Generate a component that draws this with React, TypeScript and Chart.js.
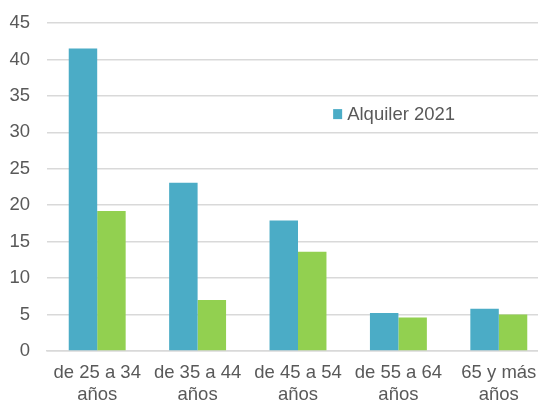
import React, { useEffect, useRef } from "react";
import { Chart, registerables } from "chart.js";

Chart.register(...registerables);

const categories: string[][] = [
  ["de 25 a 34", "años"],
  ["de 35 a 44", "años"],
  ["de 45 a 54", "años"],
  ["de 55 a 64", "años"],
  ["65 y más", "años"],
];
const alquiler2021: number[] = [41.5, 23.1, 17.9, 5.2, 5.8];
const serie2: number[] = [19.2, 7.0, 13.6, 4.6, 5.0];
const yTicks = { min: 0, max: 45, step: 5 };

const FONT = "'Liberation Sans', Arial, sans-serif";
const TEXT = "#595959";
const GRID = "#d9d9d9";

const legendPlugin = {
  id: "insideLegend",
  afterDraw(chart: any) {
    const ctx = chart.ctx;
    const ds = chart.data.datasets[0];
    const x = chart.scales.x.getPixelForValue(2.35);
    const y = chart.scales.y.getPixelForValue(32.5);
    ctx.save();
    ctx.fillStyle = ds.backgroundColor;
    ctx.fillRect(x, y - 5, 9, 10);
    ctx.fillStyle = TEXT;
    ctx.font = `18.5px ${FONT}`;
    ctx.textBaseline = "middle";
    ctx.textAlign = "left";
    ctx.fillText(ds.label, x + 14, y + 1);
    ctx.restore();
  },
};

export default function App() {
  const ref = useRef<HTMLCanvasElement>(null);
  useEffect(() => {
    if (!ref.current) return;
    const chart = new Chart(ref.current, {
      type: "bar",
      data: {
        labels: categories,
        datasets: [
          {
            label: "Alquiler 2021",
            data: alquiler2021,
            backgroundColor: "#4BACC6",
            barPercentage: 1,
            categoryPercentage: 0.567,
          },
          {
            label: "Serie 2",
            data: serie2,
            backgroundColor: "#92D050",
            barPercentage: 1,
            categoryPercentage: 0.567,
          },
        ],
      },
      options: {
        responsive: false,
        animation: false,
        layout: { padding: { top: 23, right: 0, left: 0, bottom: 0 } },
        plugins: {
          legend: { display: false },
          tooltip: { enabled: false },
        },
        scales: {
          x: {
            grid: { display: false, drawTicks: false },
            border: { display: true, color: GRID, width: 1.5 },
            ticks: {
              color: TEXT,
              font: { family: FONT, size: 18.5, lineHeight: 1.2 },
              maxRotation: 0,
              autoSkip: false,
              padding: 11,
            },
            afterFit: (s: any) => {
              s.height = 50;
              s.paddingLeft = 0;
              s.paddingRight = 0;
            },
          },
          y: {
            min: yTicks.min,
            max: yTicks.max,
            grid: { color: GRID, lineWidth: 1.5, drawTicks: false },
            border: { display: false },
            ticks: {
              stepSize: yTicks.step,
              color: TEXT,
              font: { family: FONT, size: 18.5 },
              padding: 17,
            },
            afterFit: (s: any) => {
              s.width = 47;
              s.paddingTop = 0;
              s.paddingBottom = 0;
            },
          },
        },
      },
      plugins: [legendPlugin],
    });
    return () => chart.destroy();
  }, []);
  return (
    <div
      style={{
        position: "absolute",
        left: 0,
        top: 0,
        width: 538,
        height: 401,
        overflow: "hidden",
        background: "#fff",
      }}
    >
      <canvas ref={ref} width={549} height={401} style={{ display: "block" }} />
    </div>
  );
}
